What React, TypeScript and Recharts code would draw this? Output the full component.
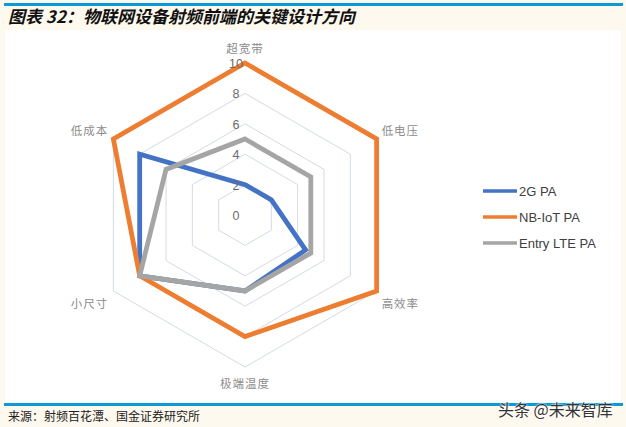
import React from 'react';
import { RadarChart, Radar, PolarGrid, PolarAngleAxis, PolarRadiusAxis, Legend } from 'recharts';

// 六个设计方向（顺时针，从顶部开始）
const directions = ['超宽带', '低电压', '高效率', '极端温度', '小尺寸', '低成本'];
const pa2G = [2, 2, 4.6, 5, 8, 8];
const paNBIoT = [10, 10, 10, 8, 8, 10];
const paEntryLTE = [5, 5, 5, 5, 8, 6];
const radiusTicks = [0, 2, 4, 6, 8, 10];

const seriesList = [
  { key: '2G PA', values: pa2G, color: '#4472C4' },
  { key: 'NB-IoT PA', values: paNBIoT, color: '#ED7D31' },
  { key: 'Entry LTE PA', values: paEntryLTE, color: '#A5A5A5' },
];

const chartData = directions.map((d, i) => {
  const row: Record<string, string | number> = { subject: d };
  seriesList.forEach(s => {
    row[s.key] = s.values[i];
  });
  return row;
});

const CX = 240;
const CY = 185;
const R = 152;
const CJK = '"Noto Sans CJK SC", "Noto Sans", sans-serif';

const AngleTick = (props: any) => {
  const { payload } = props;
  const rad = (payload.coordinate * Math.PI) / 180;
  const cos = Math.cos(rad);
  const sin = Math.sin(rad);
  let x = CX + R * cos;
  let y = CY - R * sin;
  let anchor: 'start' | 'middle' | 'end' = 'middle';
  if (Math.abs(cos) < 0.01) {
    y += sin > 0 ? -15 : 16;
  } else {
    anchor = cos > 0 ? 'start' : 'end';
    x += cos > 0 ? 5 : -5;
    y += sin > 0 ? -9 : 12;
  }
  return (
    <text x={x} y={y} textAnchor={anchor} dominantBaseline="central" fontSize={11.5} fill="#8c8c8c" fontFamily={CJK} letterSpacing={1}>
      {payload.value}
    </text>
  );
};

const RadiusTick = (props: any) => {
  const { x, y, payload } = props;
  return (
    <text x={x - 9} y={y + 1} textAnchor="middle" dominantBaseline="central" fontSize={12.5} fill="#6b6b6b" fontFamily="Arial, 'Liberation Sans', sans-serif">
      {payload.value}
    </text>
  );
};

// 图例按系列原始顺序绘制
const LegendContent = () => (
  <div>
    {seriesList.map(s => (
      <div key={s.key} style={{ display: 'flex', alignItems: 'center', height: 26 }}>
        <svg width={36} height={6}>
          <line x1={1} y1={3} x2={35} y2={3} stroke={s.color} strokeWidth={3.5} />
        </svg>
        <span style={{ fontFamily: 'Arial, "Liberation Sans", sans-serif', fontSize: 13, color: '#404040', marginLeft: 1 }}>
          {s.key}
        </span>
      </div>
    ))}
  </div>
);

export default function App() {
  return (
    <div style={{ position: 'absolute', left: 0, top: 0, width: 626, height: 427, background: '#fef9ee', overflow: 'hidden' }}>
      <div style={{ position: 'absolute', left: 4, top: 3, width: 619, height: 2.5, background: '#0a9ad9' }} />
      <div
        style={{
          position: 'absolute', left: 8, top: 5, fontFamily: CJK, fontWeight: 700, fontStyle: 'italic',
          fontSize: 17, lineHeight: '22px', color: '#111', whiteSpace: 'nowrap',
        }}
      >
        图表 32：物联网设备射频前端的关键设计方向
      </div>
      <div style={{ position: 'absolute', left: 5, top: 30, width: 616, height: 372, background: '#ffffff' }}>
        <RadarChart width={616} height={372} data={chartData} cx={CX} cy={CY} outerRadius={R} startAngle={90} endAngle={-270}>
          <PolarGrid gridType="polygon" radialLines={false} stroke="#d3dae8" strokeWidth={1} />
          <PolarAngleAxis dataKey="subject" tick={<AngleTick />} tickLine={false} axisLine={false} />
          <PolarRadiusAxis angle={90} domain={[0, 10]} ticks={radiusTicks} tickCount={6} axisLine={false} tickLine={false} tick={<RadiusTick />} />
          {seriesList.map(s => (
            <Radar
              key={s.key}
              name={s.key}
              dataKey={s.key}
              stroke={s.color}
              strokeWidth={4.8}
              strokeLinejoin="miter"
              fill="none"
              fillOpacity={0}
              dot={false}
              isAnimationActive={false}
            />
          ))}
          <Legend
            layout="vertical"
            content={<LegendContent />}
            wrapperStyle={{ position: 'absolute', left: 477, top: 148, width: 140 }}
          />
        </RadarChart>
      </div>
      <div style={{ position: 'absolute', left: 4, top: 403, width: 619, height: 2.5, background: '#0a9ad9' }} />
      <div
        style={{
          position: 'absolute', left: 8, top: 408, fontFamily: CJK, fontSize: 12, lineHeight: '16px', color: '#222', whiteSpace: 'nowrap',
        }}
      >
        来源：射频百花潭、国金证券研究所
      </div>
      <div
        style={{
          position: 'absolute', left: 498, top: 399, fontFamily: CJK, fontSize: 16, lineHeight: '20px', color: '#333',
          whiteSpace: 'nowrap', textShadow: '0 0 2px #fff, 0 0 2px #fff',
        }}
      >
        头条 @未来智库
      </div>
    </div>
  );
}
